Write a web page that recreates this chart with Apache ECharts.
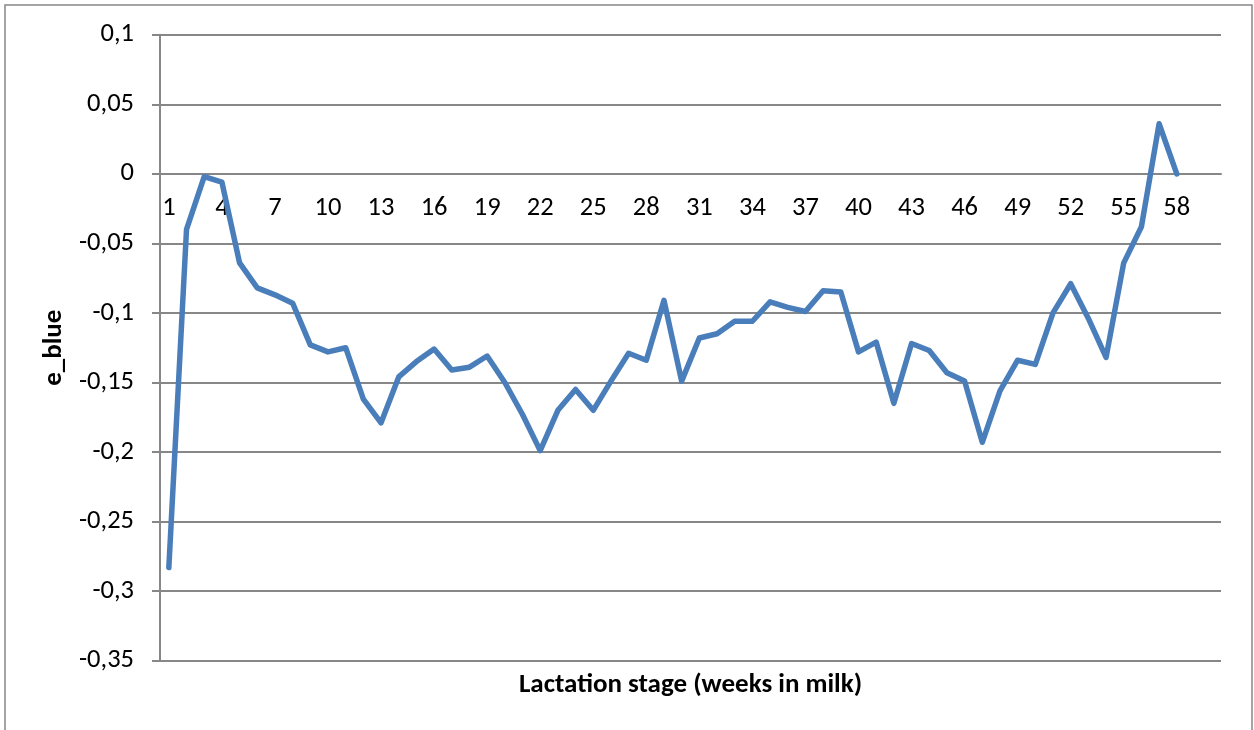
<!DOCTYPE html>
<html>
<head>
<meta charset="utf-8">
<script src="https://cdn.jsdelivr.net/npm/echarts@6/dist/echarts.min.js"></script>
<style>
html,body{margin:0;padding:0;background:#fff;}
#chart{width:1254px;height:730px;}
</style>
</head>
<body>
<div id="chart"></div>
<script>
// Categories: weeks in milk 1..60 (data for 1..58)
const weeks = Array.from({length: 60}, (_, i) => String(i + 1));
const eBlue = [
  -0.283, -0.040, -0.002, -0.006, -0.064, -0.082, -0.087, -0.093, -0.123, -0.128,
  -0.125, -0.162, -0.179, -0.146, -0.135, -0.126, -0.141, -0.139, -0.131, -0.150,
  -0.173, -0.199, -0.170, -0.155, -0.170, -0.149, -0.129, -0.134, -0.091, -0.149,
  -0.118, -0.115, -0.106, -0.106, -0.092, -0.096, -0.099, -0.084, -0.085, -0.128,
  -0.121, -0.165, -0.122, -0.127, -0.143, -0.149, -0.193, -0.156, -0.134, -0.137,
  -0.100, -0.079, -0.104, -0.132, -0.064, -0.038, 0.036, 0.000
];
const yMin = -0.35, yMax = 0.1, yStep = 0.05;
const xTitle = 'Lactation stage (weeks in milk)';
const yTitle = 'e_blue';

const W = 1254, H = 730;
const gridLeft = 160, gridRight = 33, gridTop = 34.7, gridBottom = 69.3;
const plotH = H - gridTop - gridBottom;
// move the category axis up to the value 0 (Excel "axis crosses at 0")
const xAxisOffset = -plotH * (0 - yMin) / (yMax - yMin);

const FONT = 'Carlito, Lato, "Open Sans", sans-serif';
const chart = echarts.init(document.getElementById('chart'));
chart.setOption({
  animation: false,
  backgroundColor: '#ffffff',
  grid: {left: gridLeft, right: gridRight, top: gridTop, bottom: gridBottom, containLabel: false},
  graphic: [
    {type: 'rect', shape: {x: 5, y: 5, width: 1247, height: 800},
     style: {fill: 'none', stroke: '#878787', lineWidth: 1.5}, silent: true},
    {type: 'text', x: gridLeft + (W - gridLeft - gridRight) / 2, y: 685,
     style: {text: xTitle, font: 'bold 27px ' + FONT, fill: '#000',
             textAlign: 'center', textVerticalAlign: 'middle'}, silent: true}
  ],
  xAxis: {
    type: 'category',
    data: weeks,
    boundaryGap: true,
    offset: xAxisOffset,
    axisLine: {onZero: false, lineStyle: {color: '#878787', width: 2}},
    axisTick: {show: false},
    axisLabel: {interval: 2, color: '#000', fontSize: 26.5, fontFamily: FONT, margin: 21},
    splitLine: {show: false}
  },
  yAxis: {
    type: 'value',
    min: yMin, max: yMax, interval: yStep,
    name: yTitle,
    nameLocation: 'middle',
    nameRotate: 90,
    nameGap: 91,
    nameTextStyle: {fontWeight: 'bold', fontSize: 27, fontFamily: FONT, color: '#000'},
    axisLine: {show: true, lineStyle: {color: '#878787', width: 2}},
    axisTick: {show: true, length: 8, lineStyle: {color: '#878787', width: 2}},
    axisLabel: {
      color: '#000', fontSize: 26.5, fontFamily: FONT, margin: 26,
      formatter: v => String(Math.round(v * 100) / 100).replace('.', ',')
    },
    splitLine: {show: true, lineStyle: {color: '#878787', width: 2}}
  },
  series: [{
    type: 'line',
    data: eBlue,
    showSymbol: false,
    symbol: 'none',
    lineStyle: {color: '#4a7ebb', width: 5.5, join: 'round', cap: 'round'},
    itemStyle: {color: '#4a7ebb'}
  }]
});
</script>
</body>
</html>
